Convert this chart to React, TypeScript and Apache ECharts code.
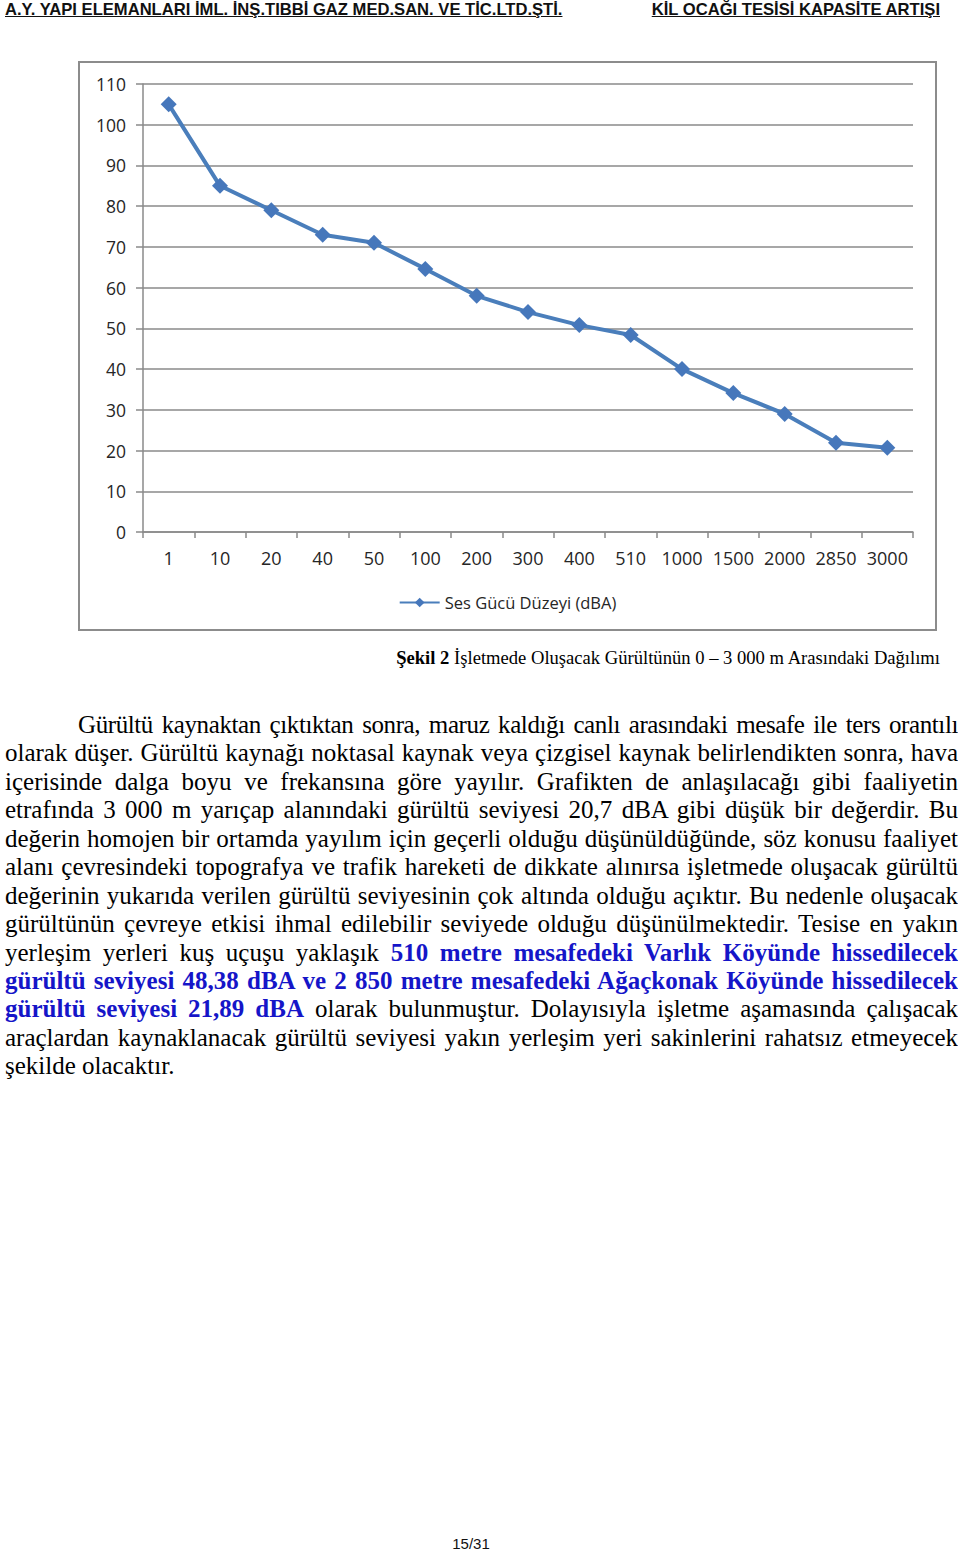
import React, { useEffect, useRef } from "react";
import * as echarts from "echarts";

const categories = ["1", "10", "20", "40", "50", "100", "200", "300", "400", "510", "1000", "1500", "2000", "2850", "3000"];
const noiseLevels = [105, 85, 79, 73, 71, 64.6, 58, 54, 50.8, 48.38, 40, 34.1, 29, 21.89, 20.7];
const seriesName = "Ses Gücü Düzeyi (dBA)";
const yMin = 0;
const yMax = 110;
const yInterval = 10;

const headerLeft = "A.Y. YAPI ELEMANLARI İML. İNŞ.TIBBİ GAZ MED.SAN. VE TİC.LTD.ŞTİ.";
const headerRight = "KİL OCAĞI TESİSİ KAPASİTE ARTIŞI";
const captionBold = "Şekil 2";
const captionText = " İşletmede Oluşacak Gürültünün 0 – 3 000 m Arasındaki Dağılımı";
const pageNumber = "15/31";

type Seg = { t: string; b?: boolean };
const paragraphLines: Seg[][] = [
  [{ t: "Gürültü kaynaktan çıktıktan sonra, maruz kaldığı canlı arasındaki mesafe ile ters orantılı" }],
  [{ t: "olarak düşer. Gürültü kaynağı noktasal kaynak veya çizgisel kaynak belirlendikten sonra, hava" }],
  [{ t: "içerisinde dalga boyu ve frekansına göre yayılır. Grafikten de anlaşılacağı gibi faaliyetin" }],
  [{ t: "etrafında 3 000 m yarıçap alanındaki gürültü seviyesi 20,7 dBA gibi düşük bir değerdir. Bu" }],
  [{ t: "değerin homojen bir ortamda yayılım için geçerli olduğu düşünüldüğünde, söz konusu faaliyet" }],
  [{ t: "alanı çevresindeki topografya ve trafik hareketi de dikkate alınırsa işletmede oluşacak gürültü" }],
  [{ t: "değerinin yukarıda verilen gürültü seviyesinin çok altında olduğu açıktır. Bu nedenle oluşacak" }],
  [{ t: "gürültünün çevreye etkisi ihmal edilebilir seviyede olduğu düşünülmektedir. Tesise en yakın" }],
  [{ t: "yerleşim yerleri kuş uçuşu yaklaşık " }, { t: "510 metre mesafedeki Varlık Köyünde hissedilecek", b: true }],
  [{ t: "gürültü seviyesi 48,38 dBA ve 2 850 metre mesafedeki Ağaçkonak Köyünde hissedilecek", b: true }],
  [{ t: "gürültü seviyesi 21,89 dBA", b: true }, { t: " olarak bulunmuştur. Dolayısıyla işletme aşamasında çalışacak" }],
  [{ t: "araçlardan kaynaklanacak gürültü seviyesi yakın yerleşim yeri sakinlerini rahatsız etmeyecek" }],
  [{ t: "şekilde olacaktır." }],
];

const chartFont = "'Open Sans', 'Noto Sans', sans-serif";

function Chart() {
  const ref = useRef<HTMLDivElement>(null);
  useEffect(() => {
    if (!ref.current) return;
    const chart = echarts.init(ref.current, null, { renderer: "svg" });
    chart.setOption({
      animation: false,
      backgroundColor: "#ffffff",
      textStyle: { fontFamily: chartFont },
      grid: { left: 63, right: 22, top: 21, bottom: 97, containLabel: false },
      legend: {
        show: true,
        bottom: 13,
        left: "center",
        itemWidth: 40,
        itemHeight: 12,
        itemGap: 10,
        textStyle: { fontFamily: chartFont, fontSize: 16.5, color: "#262626" },
        data: [{ name: seriesName }],
      },
      xAxis: {
        type: "category",
        data: categories,
        boundaryGap: true,
        axisLine: { show: true, lineStyle: { color: "#8a8a8a", width: 1.5 } },
        axisTick: { show: true, alignWithLabel: false, length: 6, lineStyle: { color: "#8a8a8a", width: 1.5 } },
        axisLabel: { color: "#262626", fontSize: 18, margin: 17, fontFamily: chartFont, interval: 0 },
        splitLine: { show: false },
      },
      yAxis: {
        type: "value",
        min: yMin,
        max: yMax,
        interval: yInterval,
        axisLine: { show: true, lineStyle: { color: "#8a8a8a", width: 1.5 } },
        axisTick: { show: true, length: 7, lineStyle: { color: "#8a8a8a", width: 1.5 } },
        axisLabel: { color: "#262626", fontSize: 17.5, margin: 17, fontFamily: chartFont },
        splitLine: { show: true, lineStyle: { color: "#8a8a8a", width: 1.5 } },
      },
      series: [
        {
          name: seriesName,
          type: "line",
          data: noiseLevels,
          symbol: "diamond",
          symbolSize: 16,
          lineStyle: { color: "#4a7ebb", width: 4 },
          itemStyle: { color: "#4677bb" },
        },
      ],
    });
    return () => chart.dispose();
  }, []);
  return <div ref={ref} style={{ width: 855, height: 566 }} />;
}

export default function App() {
  const serif = "'Liberation Serif', 'Times New Roman', serif";
  const headerStyle: React.CSSProperties = {
    position: "absolute",
    top: 0,
    fontFamily: "'Liberation Sans', Arial, sans-serif",
    fontWeight: "bold",
    fontSize: 16.6,
    textDecoration: "underline",
    color: "#111",
    whiteSpace: "nowrap",
    lineHeight: "20px",
  };
  return (
    <div style={{ position: "absolute", left: 0, top: 0, width: 960, height: 1553, background: "#fff", overflow: "hidden" }}>
      <div style={{ ...headerStyle, left: 5 }}>{headerLeft}</div>
      <div style={{ ...headerStyle, right: 20 }}>{headerRight}</div>

      <div
        style={{
          position: "absolute",
          left: 78,
          top: 61,
          width: 855,
          height: 566,
          border: "2px solid #8c8c8c",
          background: "#fff",
        }}
      >
        <Chart />
      </div>

      <div
        style={{
          position: "absolute",
          right: 20,
          top: 646,
          fontFamily: serif,
          fontSize: 18.6,
          lineHeight: "24px",
          color: "#000",
          whiteSpace: "nowrap",
        }}
      >
        <b>{captionBold}</b>
        {captionText}
      </div>

      <div
        style={{
          position: "absolute",
          left: 5,
          top: 711,
          width: 953,
          fontFamily: serif,
          fontSize: 25,
          lineHeight: "28.45px",
          color: "#000",
        }}
      >
        {paragraphLines.map((line, i) => (
          <div
            key={i}
            style={{
              textAlign: "justify",
              textAlignLast: i === paragraphLines.length - 1 ? "left" : "justify",
              paddingLeft: i === 0 ? 73 : 0,
              letterSpacing: i === 0 ? "-0.4px" : "normal",
              height: "28.45px",
              overflow: "hidden",
            }}
          >
            {line.map((s, j) =>
              s.b ? (
                <span key={j} style={{ fontWeight: "bold", color: "#1515c8" }}>
                  {s.t}
                </span>
              ) : (
                <span key={j}>{s.t}</span>
              )
            )}
          </div>
        ))}
      </div>

      <div
        style={{
          position: "absolute",
          left: 0,
          width: 942,
          top: 1535,
          textAlign: "center",
          fontFamily: "'Liberation Sans', Arial, sans-serif",
          fontSize: 15,
          color: "#111",
        }}
      >
        {pageNumber}
      </div>
    </div>
  );
}
